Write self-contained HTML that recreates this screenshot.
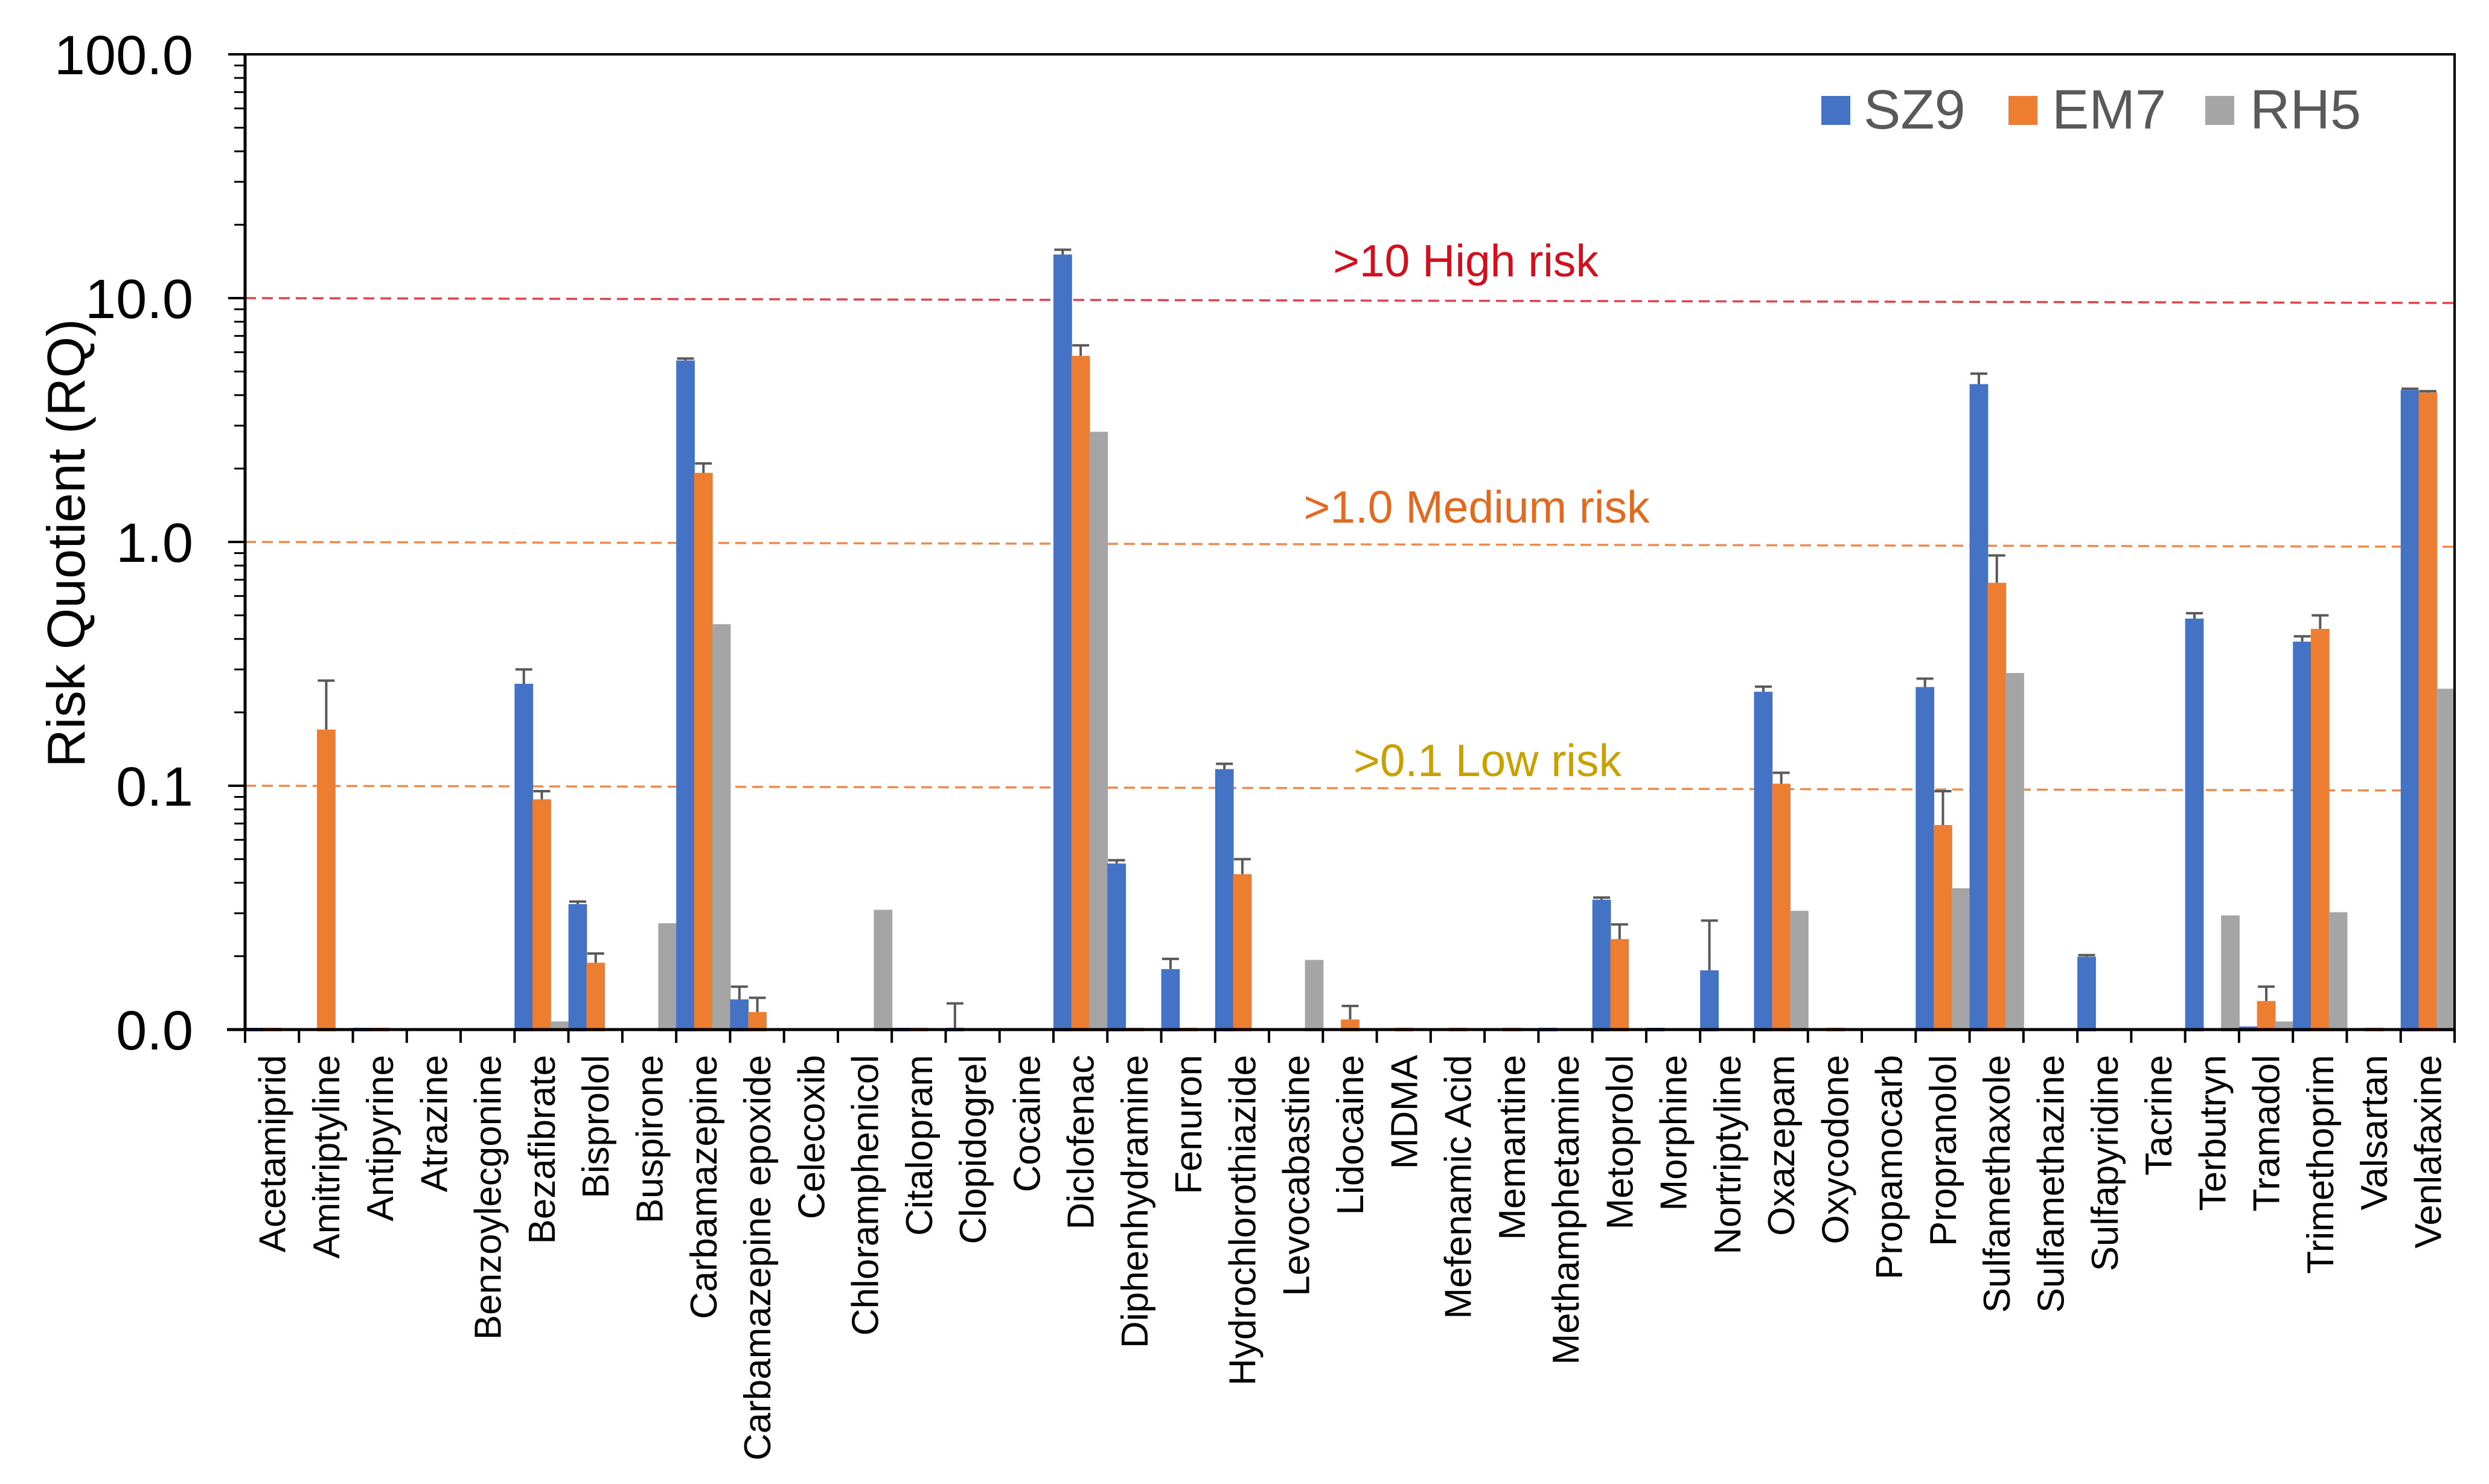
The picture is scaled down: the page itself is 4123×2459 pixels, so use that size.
<!DOCTYPE html>
<html><head><meta charset="utf-8"><style>
html,body{margin:0;padding:0;background:#fff;}
svg{display:block;}
</style></head><body>
<svg id="chart" width="4123" height="2459" viewBox="0 0 4123 2459" xmlns="http://www.w3.org/2000/svg" font-family="Liberation Sans, Arial, sans-serif">
<g id="grid"></g><g id="bars"></g><g id="axes"></g><g id="labels"></g>
</svg>
<script>
const categories = ["Acetamiprid","Amitriptyline","Antipyrine","Atrazine","Benzoylecgonine","Bezafibrate","Bisprolol","Buspirone","Carbamazepine","Carbamazepine  epoxide","Celecoxib","Chloramphenicol","Citalopram","Clopidogrel","Cocaine","Diclofenac","Diphenhydramine","Fenuron","Hydrochlorothiazide","Levocabastine","Lidocaine","MDMA","Mefenamic Acid","Memantine","Methamphetamine","Metoprolol","Morphine","Nortriptyline","Oxazepam","Oxycodone","Propamocarb","Propranolol","Sulfamethaxole","Sulfamethazine","Sulfapyridine","Tacrine","Terbutryn","Tramadol","Trimethoprim","Valsartan","Venlafaxine"];
const sz9 = [0.0098,null,0.0098,null,null,0.262,0.0327,null,5.55,0.0133,null,null,0.0098,0.0098,null,15.1,0.048,0.0177,0.117,null,null,null,null,null,0.0098,0.0341,0.0098,0.0175,0.243,null,null,0.254,4.44,null,0.0199,null,0.485,0.0103,0.39,null,4.2];
const sz9Err = [null,null,null,null,null,0.30,0.0335,null,5.65,0.015,null,null,null,0.0128,null,15.8,0.0495,0.0195,0.123,null,null,null,null,null,null,0.0348,null,0.028,0.255,null,null,0.275,4.9,null,0.0202,null,0.51,null,0.41,null,4.25];
const em7 = [0.0098,0.17,0.0098,null,null,0.088,0.0188,null,1.92,0.0118,null,null,0.0098,null,null,5.8,0.0098,0.0098,0.0434,null,0.011,0.0098,0.0098,0.0098,null,0.0235,null,null,0.102,0.0098,null,0.069,0.68,null,null,null,null,0.0131,0.44,0.0098,4.1];
const em7Err = [null,0.27,null,null,null,0.095,0.0205,null,2.1,0.0135,null,null,null,null,null,6.4,null,null,0.05,null,0.0125,null,null,null,null,0.027,null,null,0.113,null,null,0.095,0.88,null,null,null,null,0.015,0.5,null,4.15];
const rh5 = [null,null,null,null,null,0.0108,null,0.0273,0.46,null,null,0.031,null,null,null,2.83,null,null,null,0.0193,null,null,null,null,null,null,null,null,0.0307,null,null,0.038,0.29,null,null,null,0.0294,0.0108,0.0303,null,0.25];
const yTicks = [100,10,1,0.1,0.01];
const yTickLabels = ["100.0","10.0","1.0","0.1","0.0"];
const thresholds = [10,1,0.1];
const thresholdLabels = [">10 High risk",">1.0 Medium risk",">0.1 Low risk"];

const NS="http://www.w3.org/2000/svg";
const X0=406, X1=4066, YTOP=90, YBOT=1706;
const catW=(X1-X0)/categories.length;
function y(v){ return YBOT - (Math.log10(v)+2)/4*(YBOT-YTOP); }
function xc(i){ return X0 + catW*(i+0.5); }
function mk(tag,attrs,parent){ const e=document.createElementNS(NS,tag); for(const k in attrs) e.setAttribute(k,attrs[k]); parent.appendChild(e); return e; }
const grid=document.getElementById('grid'), bars=document.getElementById('bars'), axes=document.getElementById('axes'), labels=document.getElementById('labels');

const thColors=["#E0424C","#EE8A4E","#EE8A4E"];
const thText=["#D0101E","#E06A20","#C8A000"];
const thTextX=[2428,2446,2464];
const thTextDy=[-62,-58,-42];
thresholds.forEach((t,i)=>{
  const l=mk('line',{x1:X0,y1:y(t),x2:X1,y2:y(t)+8,stroke:thColors[i],'stroke-width':3.5,'stroke-dasharray':'18 10'},grid);
  
  
  const tx=mk('text',{x:thTextX[i],y:y(t)+thTextDy[i]+26,'font-size':75,fill:thText[i],'text-anchor':'middle'},labels);
  tx.textContent=thresholdLabels[i];
  
  
});

const series=[{v:sz9,e:sz9Err,c:"#4472C4",n:'sz9'},{v:em7,e:em7Err,c:"#ED7D31",n:'em7'},{v:rh5,e:null,c:"#A5A5A5",n:'rh5'}];
const bw=catW/3+1;
categories.forEach((c,i)=>{
  series.forEach((s,j)=>{
    const v=s.v[i]; if(v==null) return;
    const bx=X0+catW*i+j*(catW/3);
    const top=Math.min(y(v),YBOT-3);
    const r=mk('rect',{x:bx,y:top,width:bw,height:Math.max(YBOT-top,3)+3,fill:s.c},bars);
    
    
    if(s.e && s.e[i]!=null){
      const cx=bx+bw/2, ey=y(s.e[i]);
      const g=mk('g',{stroke:'#595959','stroke-width':4},bars);
      
      
      mk('line',{x1:cx,y1:ey,x2:cx,y2:top},g);
      mk('line',{x1:cx-14,y1:ey,x2:cx+14,y2:ey},g);
    }
  });
  const t=document.createElementNS(NS,'text');
  t.setAttribute('transform','translate('+(xc(i)+22)+',1748) rotate(-90)');
  t.setAttribute('text-anchor','end');
  t.setAttribute('font-size','62');
  t.setAttribute('fill','#000');
  t.setAttribute('xml:space','preserve');
  t.textContent=c;
  
  
  labels.appendChild(t);
});

const frame=mk('path',{d:`M${X0},${YTOP} H${X1} V${YBOT}`,fill:'none',stroke:'#000','stroke-width':4},axes);


const ya=mk('line',{x1:X0,y1:YTOP-2,x2:X0,y2:YBOT,stroke:'#000','stroke-width':5},axes);


const xa=mk('line',{x1:X0-30,y1:YBOT,x2:X1,y2:YBOT,stroke:'#000','stroke-width':5},axes);


for(let i=0;i<=categories.length;i++){
  mk('line',{x1:X0+catW*i,y1:YBOT,x2:X0+catW*i,y2:YBOT+22,stroke:'#000','stroke-width':4},axes);
}
yTicks.forEach((t,i)=>{
  mk('line',{x1:X0-28,y1:y(t),x2:X0,y2:y(t),stroke:'#000','stroke-width':4},axes);
  if(t<100){ for(let m=2;m<=9;m++){ mk('line',{x1:X0-18,y1:y(t*m),x2:X0,y2:y(t*m),stroke:'#000','stroke-width':3},axes); } }
  const tx=mk('text',{x:320,y:y(t)+33,'font-size':92,'text-anchor':'end',fill:'#000'},labels);
  tx.textContent=yTickLabels[i];
  
  
});
const yt=mk('text',{transform:'translate(140,900) rotate(-90)','font-size':88,'text-anchor':'middle',fill:'#000','xml:space':'preserve'},labels);
yt.textContent='Risk Quotient  (RQ)';



const legItems=[["SZ9","#4472C4",3017,3087],["EM7","#ED7D31",3327,3399],["RH5","#A5A5A5",3653,3727]];
legItems.forEach((l,i)=>{
  const g=mk('g',{},labels);
  
  
  mk('rect',{x:l[2],y:159,width:48,height:48,fill:l[1]},g);
  const t=mk('text',{x:l[3],y:213,'font-size':92,fill:'#595959'},g);
  t.textContent=l[0];
});
</script>
</body></html>
